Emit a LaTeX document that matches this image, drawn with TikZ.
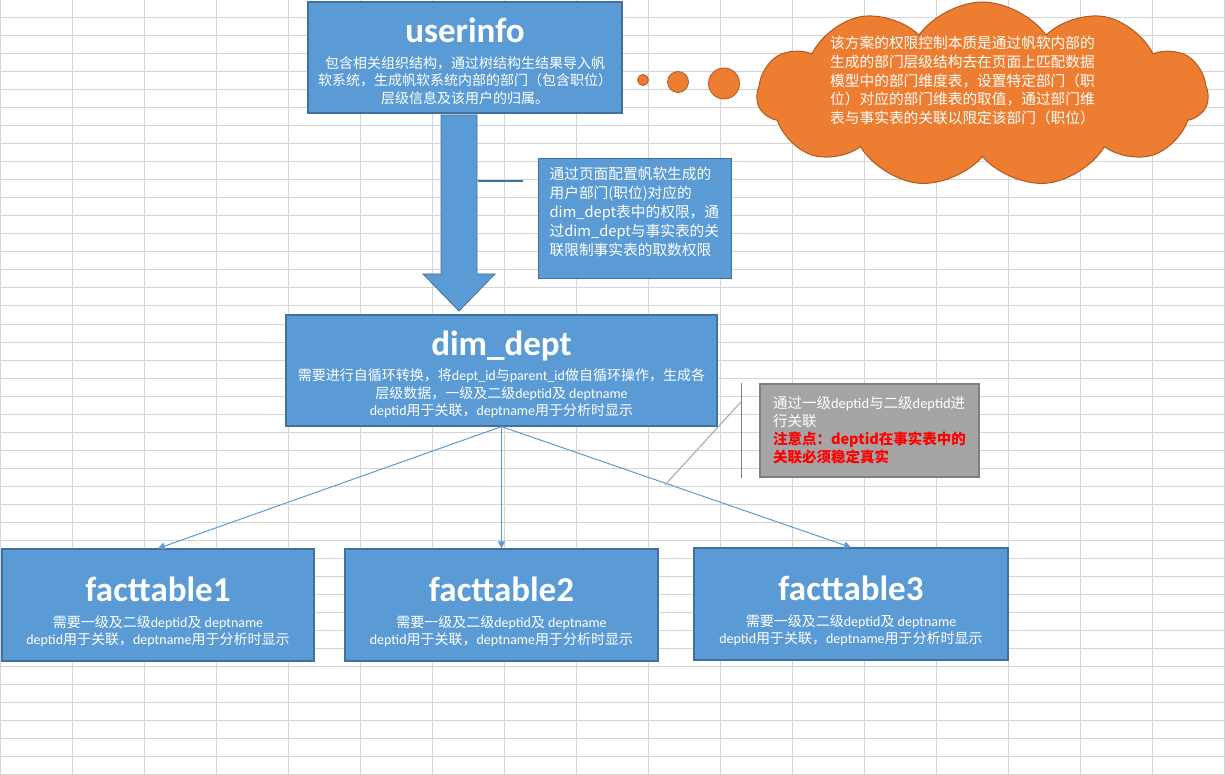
\documentclass[tikz,border=0pt]{standalone}
\usepackage{fontspec}
\setmainfont{Noto Sans CJK SC}
\newfontfamily\titlefont{Carlito}
\usetikzlibrary{arrows.meta,shapes.symbols}
\definecolor{boxblue}{HTML}{5B9BD5}
\definecolor{boxedge}{HTML}{41719C}
\definecolor{cloudorange}{HTML}{ED7D31}
\definecolor{cloudedge}{HTML}{AE5A21}
\definecolor{notegray}{HTML}{A5A5A5}
\definecolor{noteedge}{HTML}{7F7F7F}
\definecolor{cellline}{HTML}{D4D4D4}
\newcommand{\boxtitle}[2][40.5pt]{{\titlefont\bfseries\fontsize{35}{35}\selectfont\rule[-8pt]{0pt}{#1}#2}}
\newcommand{\lat}[1]{{\titlefont #1}}
\tikzstyle{tablebox}=[
    draw=boxedge, fill=boxblue, line width=1.2pt,
    text=white, align=center, inner sep=0pt,
    font=\fontsize{14}{17.5}\selectfont,
]
\tikzstyle{callout}=[
    draw=boxedge, fill=boxblue, line width=1.2pt,
    text=white, inner xsep=11pt, inner ysep=0pt,
    font=\fontsize{14.7}{19}\selectfont,
]
\tikzstyle{notebox}=[
    draw=noteedge, fill=notegray, line width=1.2pt,
    text=white, align=left, inner sep=0pt,
    minimum width=219pt, minimum height=93pt,
    font=\fontsize{14.5}{18}\selectfont,
]
\tikzstyle{bubble}=[
    circle, draw=cloudedge, fill=cloudorange, line width=0.8pt, inner sep=0pt,
]
\tikzstyle{link}=[
    draw=boxblue, line width=1pt, -{Triangle[length=7pt,width=7pt]},
]

\begin{document}
\begin{tikzpicture}[x=1pt, y=-1pt]
    \useasboundingbox (0,0) rectangle (1225,775);
    \fill[white] (0,0) rectangle (1225,775);
    \foreach \x in {0,72,...,1224}
        \draw[cellline, line width=1pt] (\x,0) -- (\x,775);
    \foreach \y in {0,18,...,774}
        \draw[cellline, line width=1pt] (0,\y) -- (1225,\y);

    \node[tablebox, minimum width=314pt, minimum height=111pt] (userinfo) at (465,57.5)
        {\boxtitle{userinfo}\\[4.5pt]
         包含相关组织结构，通过树结构生结果导入帆\\
         软系统，生成帆软系统内部的部门（包含职位）\\
         层级信息及该用户的归属。};
    \node[tablebox, minimum width=431pt, minimum height=111pt] (dimdept) at (501.5,370.5)
        {\boxtitle{dim\_dept}\\[4.5pt]
         需要进行自循环转换，将\lat{dept\_id}与\lat{parent\_id}做自循环操作，生成各\\
         层级数据，一级及二级\lat{deptid}及 \lat{deptname}\\
         \lat{deptid}用于关联，\lat{deptname}用于分析时显示};
    \node[tablebox, minimum width=312pt, minimum height=112pt] (fact1) at (158,605)
        {\boxtitle[46.5pt]{facttable1}\\[4.5pt]
         需要一级及二级\lat{deptid}及 \lat{deptname}\\
         \lat{deptid}用于关联，\lat{deptname}用于分析时显示};
    \node[tablebox, minimum width=313pt, minimum height=112pt] (fact2) at (501.5,605)
        {\boxtitle[46.5pt]{facttable2}\\[4.5pt]
         需要一级及二级\lat{deptid}及 \lat{deptname}\\
         \lat{deptid}用于关联，\lat{deptname}用于分析时显示};
    \node[tablebox, minimum width=314pt, minimum height=112pt] (fact3) at (851,604)
        {\boxtitle[46.5pt]{facttable3}\\[4.5pt]
         需要一级及二级\lat{deptid}及 \lat{deptname}\\
         \lat{deptid}用于关联，\lat{deptname}用于分析时显示};

    \draw[fill=boxblue, draw=boxedge, line width=0.8pt]
        (441,115) -- (477,115) -- (477,274) -- (495,274) -- (459,311) -- (423,274) -- (441,274) -- cycle;

    \node[callout, anchor=north west] (callout) at (538,158)
        {\parbox[c][120pt][t]{171pt}{\vspace{8pt}%
         通过页面配置帆软生成的\\
         用户部门(职位)对应的\\
         dim\_dept表中的权限，通\\
         过dim\_dept与事实表的关\\
         联限制事实表的取数权限}};
    \coordinate (leadin) at (523,181);
    \coordinate (leadout) at (478,181);
    \draw[boxedge, line width=1.5pt] (leadin) -- (leadout);

    \node[bubble, minimum size=11pt] (dot1) at (643,80) {};
    \node[bubble, minimum size=21pt] (dot2) at (678,82) {};
    \node[bubble, minimum size=31pt] (dot3) at (724,83.5) {};
    \node[cloud, cloud puffs=11, cloud puff arc=110, aspect=2.4,
          minimum width=451pt, minimum height=185pt,
          draw=cloudedge, fill=cloudorange, line width=1pt] (cloud) at (982.5,94.5) {};
    \node[text=white, align=left, font=\fontsize{14.7}{18.75}\selectfont] (cloudnote)
        at ([xshift=-20pt,yshift=14pt]cloud.center)
        {该方案的权限控制本质是通过帆软内部的\\
         生成的部门层级结构去在页面上匹配数据\\
         模型中的部门维度表，设置特定部门（职\\
         位）对应的部门维表的取值，通过部门维\\
         表与事实表的关联以限定该部门（职位）};

    \draw[link] (dimdept.south) -- (fact1.north);
    \draw[link] (dimdept.south) -- (fact2.north);
    \draw[link] (dimdept.south) -- (fact3.north);

    \node[notebox] (note) at (869.5,430.5)
        {通过一级\lat{deptid}与二级\lat{deptid}进\\
         行关联\\
         {\color{red}\bfseries 注意点：deptid在事实表中的}\\
         {\color{red}\bfseries 关联必须稳定真实}};
    \coordinate (notetip) at (665,485);
    \draw[noteedge, line width=1.5pt] ([xshift=-18pt]note.north west) -- ([xshift=-18pt]note.south west);
    \draw[black!35, line width=1pt] ([xshift=-18pt,yshift=-18pt]note.north west) -- (notetip);
\end{tikzpicture}
\end{document}
